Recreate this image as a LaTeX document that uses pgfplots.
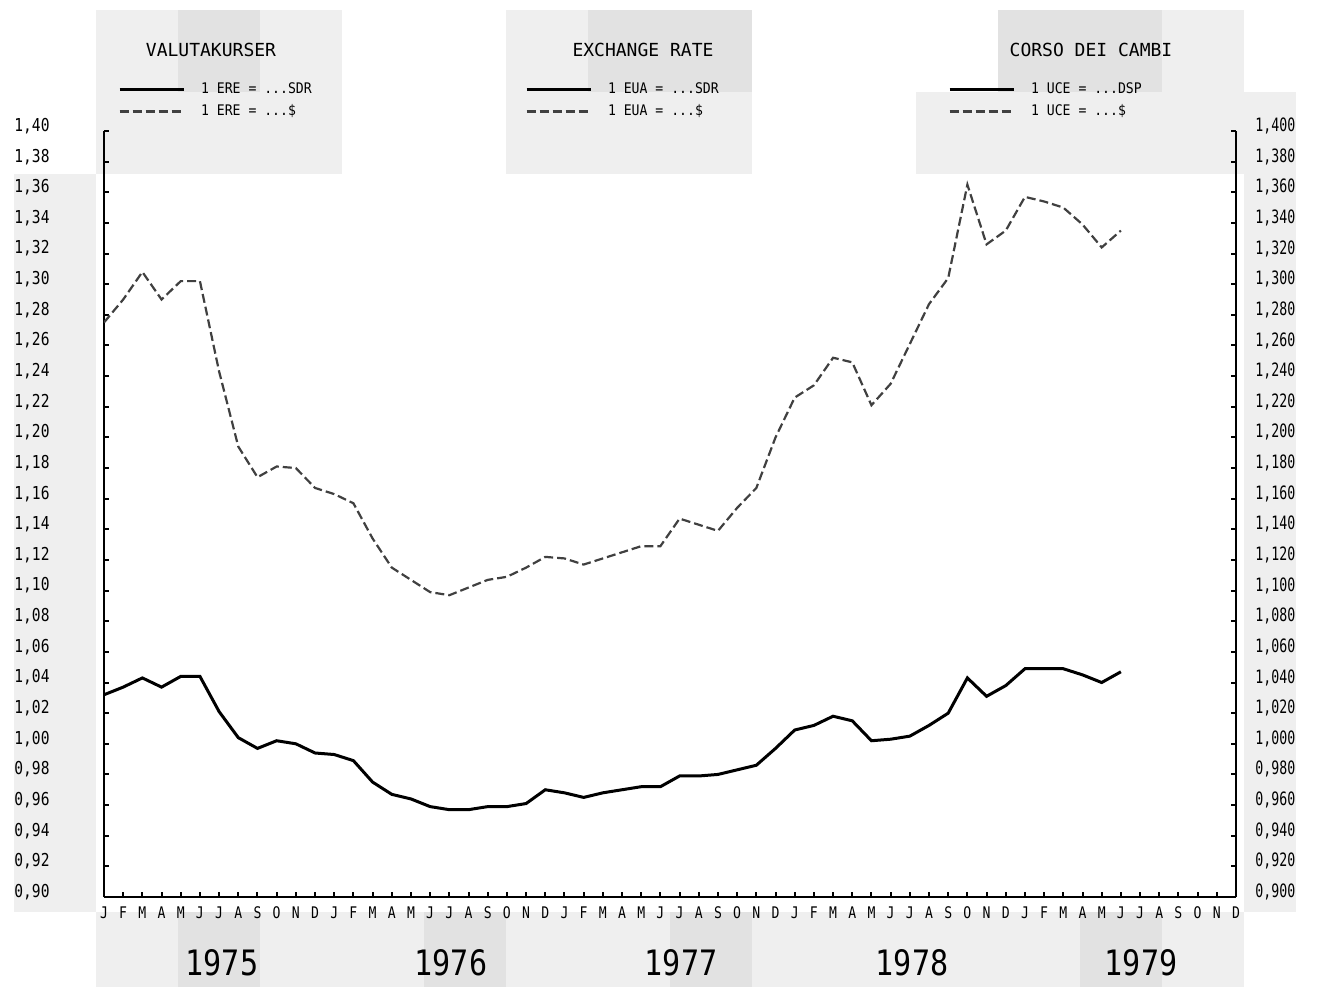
\documentclass[border=0pt]{standalone}
\usepackage{pgfplots}
\pgfplotsset{compat=1.18}
\usepackage{pgfplotstable}
\usepackage{fontspec}
\setmainfont{DejaVu Sans Mono}
\newfontfamily\tickfont[FakeStretch=0.82]{DejaVu Sans Mono}
\newfontfamily\rtickfont[FakeStretch=0.72]{DejaVu Sans Mono}
\newfontfamily\legfont[FakeStretch=0.9]{DejaVu Sans Mono}
\newfontfamily\yearfont[FakeStretch=0.86]{DejaVu Sans Mono}

\definecolor{scan}{HTML}{EFEFEF}
\definecolor{scandark}{HTML}{E2E2E2}

% month index (0 = Jan 1975), 1 unit = ... SDR, 1 unit = ... $
\pgfplotstableread{
m  sdr    usd
0  1.032  1.275
1  1.037  1.290
2  1.043  1.308
3  1.037  1.290
4  1.044  1.302
5  1.044  1.302
6  1.021  1.243
7  1.004  1.194
8  0.997  1.174
9  1.002  1.181
10 1.000  1.180
11 0.994  1.167
12 0.993  1.163
13 0.989  1.157
14 0.975  1.134
15 0.967  1.115
16 0.964  1.107
17 0.959  1.099
18 0.957  1.097
19 0.957  1.102
20 0.959  1.107
21 0.959  1.109
22 0.961  1.115
23 0.970  1.122
24 0.968  1.121
25 0.965  1.117
26 0.968  1.121
27 0.970  1.125
28 0.972  1.129
29 0.972  1.129
30 0.979  1.147
31 0.979  1.143
32 0.980  1.139
33 0.983  1.154
34 0.986  1.167
35 0.997  1.200
36 1.009  1.226
37 1.012  1.234
38 1.018  1.252
39 1.015  1.249
40 1.002  1.221
41 1.003  1.235
42 1.005  1.261
43 1.012  1.287
44 1.020  1.304
45 1.043  1.365
46 1.031  1.326
47 1.038  1.335
48 1.049  1.357
49 1.049  1.354
50 1.049  1.350
51 1.045  1.339
52 1.040  1.324
53 1.047  1.335
}\rates

\pgfplotsset{
  chartbox/.style={
    scale only axis, width=566pt, height=383pt,
    anchor=south west, at={(52pt,45pt)},
    xmin=0, xmax=59, ymin=0.90, ymax=1.40,
  },
  legend image code/.code={\draw[#1] (0pt,0pt) -- (32pt,0pt);},
  legendbox/.style={legend style={draw=none, fill=none, inner sep=0pt, outer sep=0pt,
      anchor=north west, at={(#1,1.064)},
      font=\legfont\fontsize{7.3}{8}\selectfont,
      row sep=3.5pt, column sep=8pt,
      nodes={inner sep=0pt, text height=6pt, text depth=1.5pt}},
    legend cell align=left},
  sdrline/.style={black, line width=1.5pt},
  usdline/.style={black!75, line width=1.1pt, dash pattern=on 4.5pt off 2pt},
  yvals/.style={ytick={0.90,0.92,0.94,0.96,0.98,1.00,1.02,1.04,1.06,1.08,1.10,1.12,1.14,
      1.16,1.18,1.20,1.22,1.24,1.26,1.28,1.30,1.32,1.34,1.36,1.38,1.40}},
}

\begin{document}
\begin{tikzpicture}
\useasboundingbox (0,0) rectangle (659.5pt,493.5pt);

% greyish tint of the scanned page
\fill[scan] (7pt,37.5pt) rectangle (48pt,406.5pt);
\fill[scan] (622pt,37.5pt) rectangle (648pt,447.5pt);
\fill[scan] (48pt,0pt) rectangle (622pt,37.5pt);
\fill[scandark] (89pt,0pt) rectangle (130pt,37.5pt);
\fill[scandark] (212pt,0pt) rectangle (253pt,37.5pt);
\fill[scandark] (335pt,0pt) rectangle (376pt,37.5pt);
\fill[scandark] (540pt,0pt) rectangle (581pt,37.5pt);
\fill[scan] (48pt,406.5pt) rectangle (171pt,488.5pt);
\fill[scandark] (89pt,447.5pt) rectangle (130pt,488.5pt);
\fill[scan] (253pt,406.5pt) rectangle (376pt,488.5pt);
\fill[scandark] (294pt,447.5pt) rectangle (376pt,488.5pt);
\fill[scan] (458pt,406.5pt) rectangle (622pt,447.5pt);
\fill[scandark] (499pt,447.5pt) rectangle (581pt,488.5pt);
\fill[scan] (581pt,447.5pt) rectangle (622pt,488.5pt);

\begin{axis}[chartbox,
  axis lines*=left,
  axis line style={line width=1.2pt},
  tick align=inside, major tick length=2.5pt,
  tick style={black, line width=1pt},
  xtick={0,...,59},
  xticklabels={J,F,M,A,M,J,J,A,S,O,N,D,J,F,M,A,M,J,J,A,S,O,N,D,
               J,F,M,A,M,J,J,A,S,O,N,D,J,F,M,A,M,J,J,A,S,O,N,D,
               J,F,M,A,M,J,J,A,S,O,N,D},
  xticklabel style={font=\tickfont\fontsize{8}{8}\selectfont, anchor=center, yshift=-8pt},
  yvals,
  yticklabel style={font=\tickfont\fontsize{8.9}{9}\selectfont, anchor=west,
    inner sep=0pt, xshift=-45pt, yshift=2.5pt,
    /pgf/number format/fixed, /pgf/number format/fixed zerofill,
    /pgf/number format/precision=2, /pgf/number format/use comma,
    /pgf/number format/assume math mode=true},
  legendbox=0.0124,
]
\addplot[sdrline] table[x=m, y=sdr] {\rates};
\addlegendentry{1 ERE = ...SDR}
\addplot[usdline] table[x=m, y=usd] {\rates};
\addlegendentry{1 ERE = ...\$}
\end{axis}

\begin{axis}[chartbox,
  axis x line=none, axis y line*=right,
  axis line style={line width=1.2pt},
  tick align=inside, major tick length=2.5pt,
  tick style={black, line width=1pt},
  yvals,
  yticklabel style={font=\rtickfont\fontsize{9.2}{9}\selectfont, anchor=west,
    inner sep=0pt, xshift=9.5pt, yshift=2.5pt,
    /pgf/number format/fixed, /pgf/number format/fixed zerofill,
    /pgf/number format/precision=3, /pgf/number format/use comma,
    /pgf/number format/assume math mode=true},
]
\end{axis}

\begin{axis}[chartbox, hide axis, legendbox=0.3719]
\addlegendimage{sdrline}
\addlegendentry{1 EUA = ...SDR}
\addlegendimage{usdline}
\addlegendentry{1 EUA = ...\$}
\end{axis}

\begin{axis}[chartbox, hide axis, legendbox=0.7456]
\addlegendimage{sdrline}
\addlegendentry{1 UCE = ...DSP}
\addlegendimage{usdline}
\addlegendentry{1 UCE = ...\$}
\end{axis}

\node[font=\fontsize{9}{10}\selectfont] at (105.5pt,468.5pt) {VALUTAKURSER};
\node[font=\fontsize{9}{10}\selectfont] at (321.5pt,468.5pt) {EXCHANGE RATE};
\node[font=\fontsize{9}{10}\selectfont] at (545.5pt,468.5pt) {CORSO DEI CAMBI};

\node[font=\yearfont\fontsize{17.5}{20}\selectfont] at (111pt,12pt) {1975};
\node[font=\yearfont\fontsize{17.5}{20}\selectfont] at (225.5pt,12pt) {1976};
\node[font=\yearfont\fontsize{17.5}{20}\selectfont] at (340.5pt,12pt) {1977};
\node[font=\yearfont\fontsize{17.5}{20}\selectfont] at (456pt,12pt) {1978};
\node[font=\yearfont\fontsize{17.5}{20}\selectfont] at (570.5pt,12pt) {1979};
\end{tikzpicture}
\end{document}
